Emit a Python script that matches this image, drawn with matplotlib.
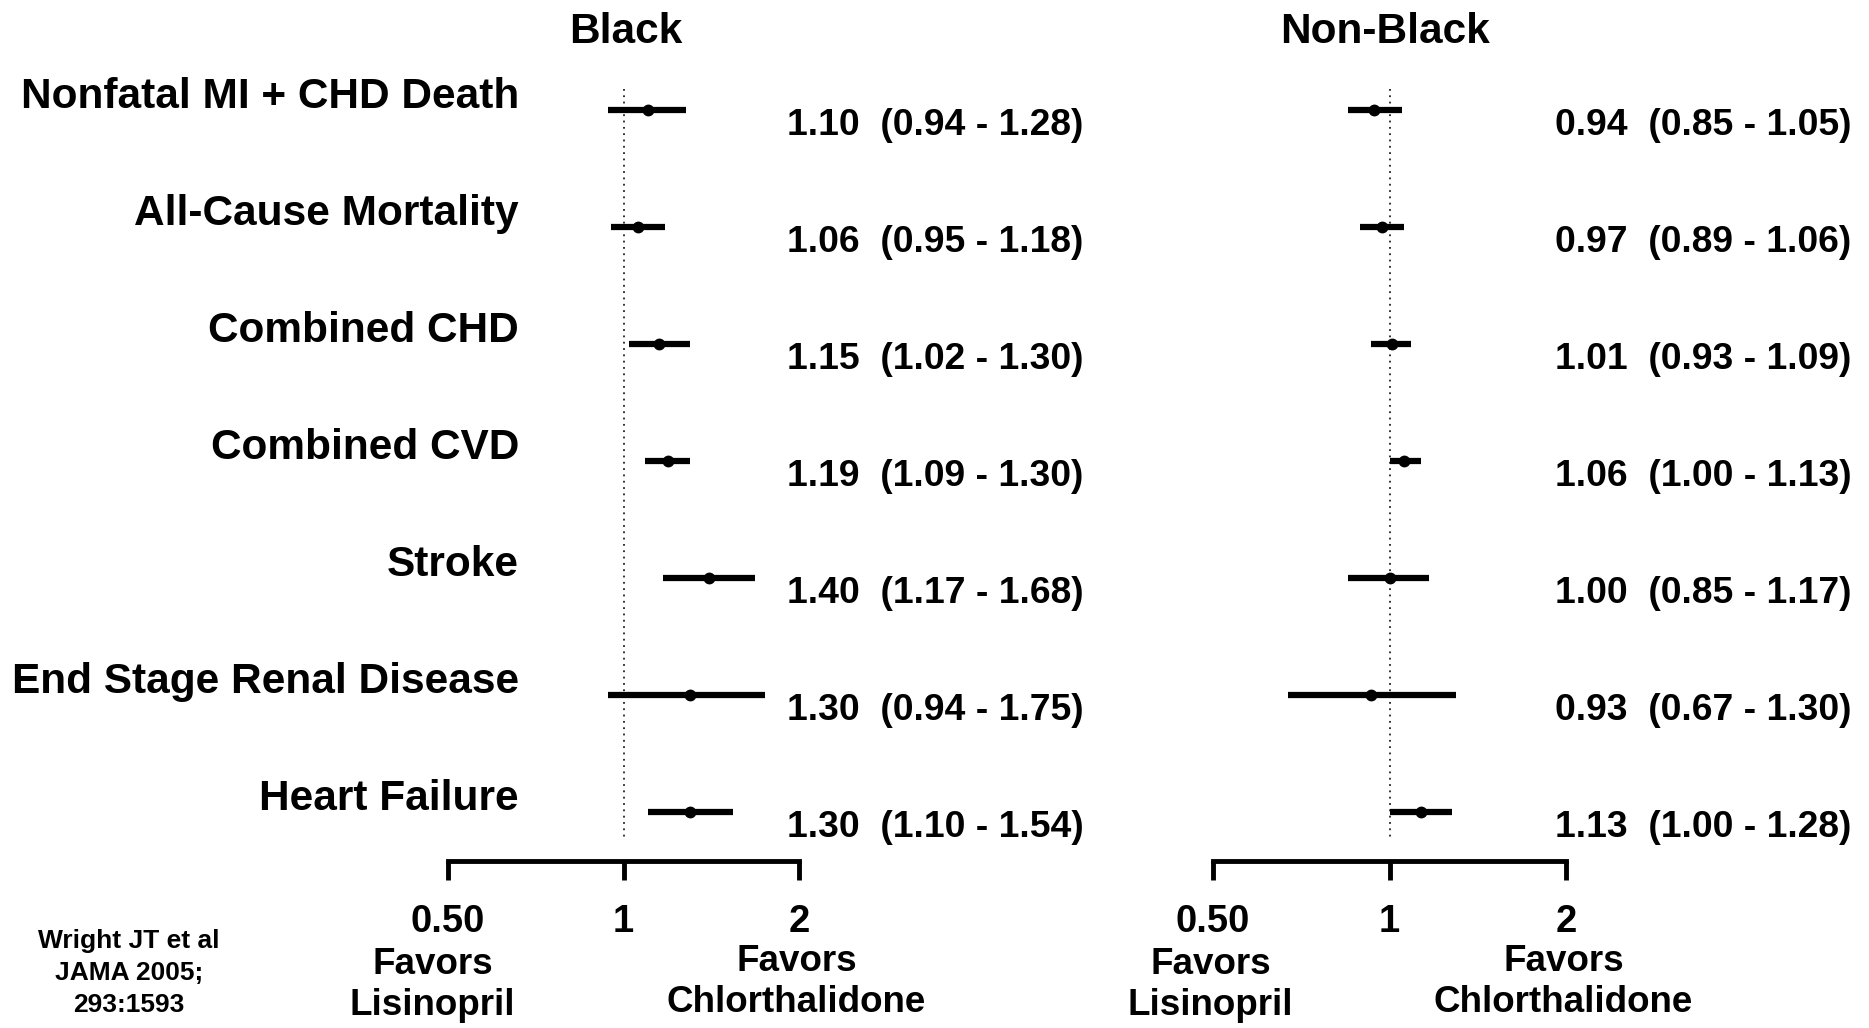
import numpy as np
import matplotlib
matplotlib.use('Agg')
from matplotlib import pyplot as plt
from matplotlib.transforms import blended_transform_factory

plt.rcParams['font.family'] = ['Liberation Sans', 'DejaVu Sans']
plt.rcParams['font.weight'] = 'bold'

outcomes = [
    'Nonfatal MI + CHD Death',
    'All-Cause Mortality',
    'Combined CHD',
    'Combined CVD',
    'Stroke',
    'End Stage Renal Disease',
    'Heart Failure',
]

# Black
black_rr = [1.10, 1.06, 1.15, 1.19, 1.40, 1.30, 1.30]
black_lo = [0.94, 0.95, 1.02, 1.09, 1.17, 0.94, 1.10]
black_hi = [1.28, 1.18, 1.30, 1.30, 1.68, 1.75, 1.54]

# Non-Black
nonblack_rr = [0.94, 0.97, 1.01, 1.06, 1.00, 0.93, 1.13]
nonblack_lo = [0.85, 0.89, 0.93, 1.00, 0.85, 0.67, 1.00]
nonblack_hi = [1.05, 1.06, 1.09, 1.13, 1.17, 1.30, 1.28]

panel_titles = ['Black', 'Non-Black']
tick_vals = [0.5, 1, 2]
tick_labels = ['0.50', '1', '2']
citation = 'Wright JT et al\nJAMA 2005;\n293:1593'

W, H = 1869, 1028
fig = plt.figure(figsize=(W / 100, H / 100), dpi=100)

# axes placed in pixel coords: x=0.5..2 span, y from top of dotted line to axis line
def px_axes(x0, x1, ytop, ybot):
    return fig.add_axes([x0 / W, 1 - ybot / H, (x1 - x0) / W, (ybot - ytop) / H])

ax_l = px_axes(448, 799, 89, 861)
ax_r = px_axes(1213, 1566, 89, 861)

fs_big = 30.5   # titles, outcome names
fs_num = 26.8   # RR (CI) text
fs_tick = 27.5
fs_fav = 26.5
n = len(outcomes)
ypos = np.arange(n)

panels = [
    (ax_l, black_rr, black_lo, black_hi, 787, 0.47),
    (ax_r, nonblack_rr, nonblack_lo, nonblack_hi, 1555, 0.495),
]

for k, (ax, rr, lo, hi, txt_x, fav_x) in enumerate(panels):
    ax.set_xscale('log')
    ax.set_xlim(0.5, 2)
    ax.set_ylim(6.42, -0.18)

    ax.plot([1, 1], [-0.18, 6.24], color='#222222', lw=1.3, ls=(0, (1, 2.5)))

    ax.hlines(ypos, lo, hi, color='black', lw=4.5)
    ax.plot(rr, ypos, 'o', color='black', markersize=7.5)

    trans = blended_transform_factory(fig.transFigure, ax.transData)
    for i in range(n):
        ax.text(txt_x / W, ypos[i] + 0.13,
                '%.2f  (%.2f - %.2f)' % (rr[i], lo[i], hi[i]),
                transform=trans, ha='left', va='center', fontsize=fs_num,
                fontweight='bold', clip_on=False)

    for s in ['top', 'right', 'left']:
        ax.spines[s].set_visible(False)
    ax.spines['bottom'].set_linewidth(3.5)
    ax.set_yticks([])
    ax.set_xticks(tick_vals)
    ax.set_xticklabels(tick_labels)
    ax.xaxis.set_minor_locator(matplotlib.ticker.NullLocator())
    ax.tick_params(axis='x', direction='out', length=14, width=3.5,
                   pad=17, labelsize=fs_tick)
    for lab in ax.get_xticklabels():
        lab.set_fontweight('bold')

    # favors labels under the axis
    tr_x = blended_transform_factory(ax.transData, fig.transFigure)
    ax.text(fav_x, 1 - 985 / H, 'Favors\nLisinopril', transform=tr_x,
            ha='center', va='center', fontsize=fs_fav, fontweight='bold',
            linespacing=1.25)
    ax.text(1.98, 1 - 982 / H, 'Favors\nChlorthalidone', transform=tr_x,
            ha='center', va='center', fontsize=fs_fav, fontweight='bold',
            linespacing=1.25)

# panel titles
fig.text(626 / W, 1 - 32 / H, panel_titles[0], ha='center', va='center',
         fontsize=fs_big, fontweight='bold')
fig.text(1385 / W, 1 - 32 / H, panel_titles[1], ha='center', va='center',
         fontsize=fs_big, fontweight='bold')

# outcome labels
trans = blended_transform_factory(fig.transFigure, ax_l.transData)
for i, name in enumerate(outcomes):
    ax_l.text(519 / W, ypos[i] - 0.11, name, transform=trans, ha='right',
              va='center', fontsize=fs_big, fontweight='bold', clip_on=False)

fig.text(129 / W, 1 - 973 / H, citation, ha='center', va='center',
         fontsize=19, fontweight='bold', linespacing=1.42)

fig.savefig('out.png', dpi=100)
